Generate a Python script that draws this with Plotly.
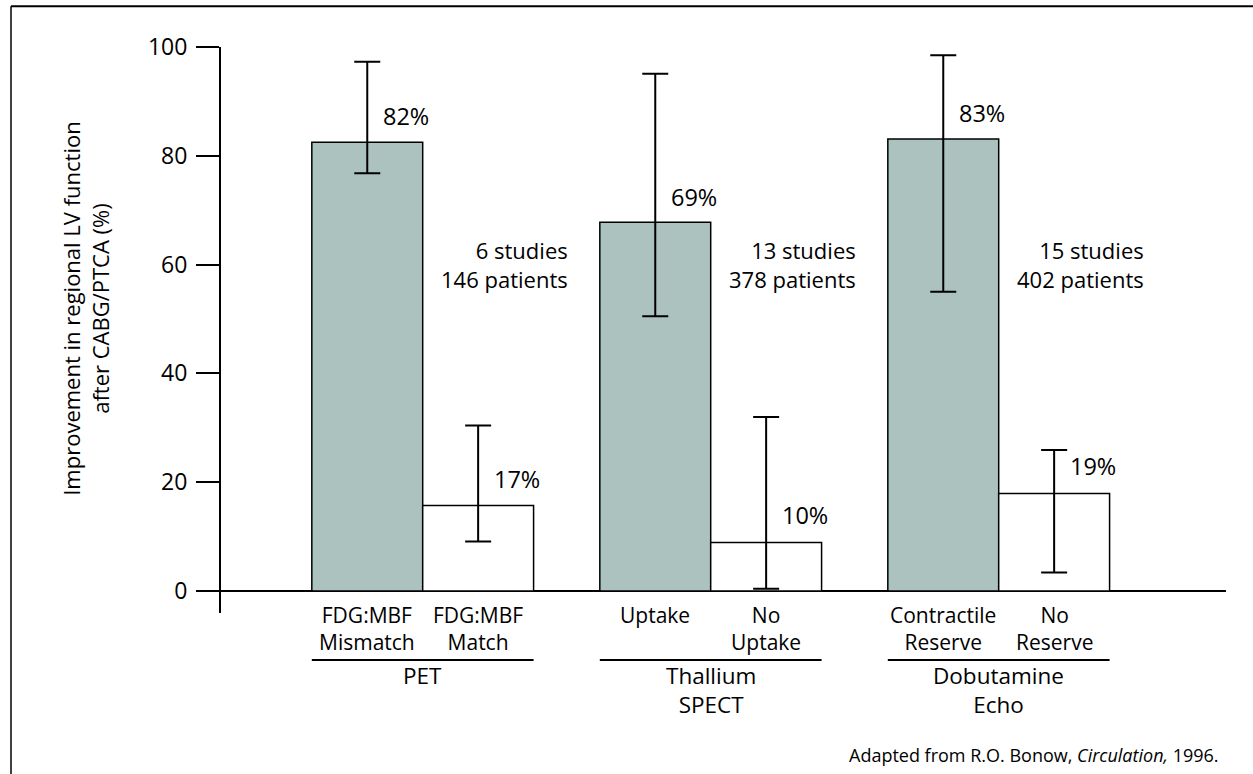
import plotly.graph_objects as go

# ---------------- data ----------------
groups = ["PET", "Thallium<br>SPECT", "Dobutamine<br>Echo"]
viable_labels = ["FDG:MBF<br>Mismatch", "Uptake", "Contractile<br>Reserve"]
nonviable_labels = ["FDG:MBF<br>Match", "No<br>Uptake", "No<br>Reserve"]
viable = [82.5, 67.8, 83.1]
viable_upper = [97.3, 95.1, 98.5]
viable_lower = [76.8, 50.5, 55.0]
nonviable = [15.7, 8.9, 17.9]
nonviable_upper = [30.4, 32.0, 25.9]
nonviable_lower = [9.1, 0.4, 3.4]
viable_text = ["82%", "69%", "83%"]
nonviable_text = ["17%", "10%", "19%"]
viable_text_y = [87.4, 72.5, 87.9]
nonviable_text_y = [20.6, 14.0, 23.0]
study_counts = ["6 studies", "13 studies", "15 studies"]
patient_counts = ["146 patients", "378 patients", "402 patients"]
y_ticks = [0, 20, 40, 60, 80, 100]

# ---------------- layout geometry ----------------
W, H = 1253, 774
PL, PR = 221, 1226          # plot area left/right (px)
PT, PB = 47.4, 613          # plot area top/bottom (px)
GROUP_SPACING = 288.0       # px per group unit
G0 = 422.7                  # px of group 0 centre
X_RANGE = [(PL - G0) / GROUP_SPACING, (PR - G0) / GROUP_SPACING]
Y_RANGE = [-4.05, 100]
BARGAP = 0.23
HALF = (1 - BARGAP) / 4      # offset of bar centre from group centre

FONT = "Open Sans"
gx = list(range(len(groups)))


def paper_x(px):
    return (px - PL) / (PR - PL)


def paper_y(py):
    return (PB - py) / (PB - PT)


def err(vals, hi, lo):
    return [h - v for v, h in zip(vals, hi)], [v - l for v, l in zip(vals, lo)]


vp, vm = err(viable, viable_upper, viable_lower)
np_, nm = err(nonviable, nonviable_upper, nonviable_lower)

fig = go.Figure()
fig.add_trace(go.Bar(
    x=gx, y=viable, name="viable",
    marker=dict(color="#abc2be", line=dict(color="black", width=1.5)),
    error_y=dict(type="data", symmetric=False, array=vp, arrayminus=vm,
                 color="black", thickness=2, width=13),
))
fig.add_trace(go.Bar(
    x=gx, y=nonviable, name="non-viable",
    marker=dict(color="white", line=dict(color="black", width=1.5)),
    error_y=dict(type="data", symmetric=False, array=np_, arrayminus=nm,
                 color="black", thickness=2, width=13),
))

ann = []
off = 14 / GROUP_SPACING
LBL = 23.5
for i, g in enumerate(gx):
    # percent labels
    ann.append(dict(x=g - HALF + off, y=viable_text_y[i], xref="x", yref="y",
                    text=viable_text[i], showarrow=False, xanchor="left", yanchor="middle",
                    font=dict(size=LBL)))
    ann.append(dict(x=g + HALF + off, y=nonviable_text_y[i], xref="x", yref="y",
                    text=nonviable_text[i], showarrow=False, xanchor="left", yanchor="middle",
                    font=dict(size=LBL)))
    # studies / patients
    ann.append(dict(x=g + 147.3 / GROUP_SPACING, y=60.1, xref="x", yref="y",
                    text=study_counts[i] + "<br>" + patient_counts[i],
                    showarrow=False, xanchor="right", yanchor="middle", align="right",
                    font=dict(size=22)))
    # category labels
    ann.append(dict(x=g - HALF, y=paper_y(599), xref="x", yref="paper",
                    text=viable_labels[i], showarrow=False, xanchor="center", yanchor="top",
                    font=dict(size=21)))
    ann.append(dict(x=g + HALF, y=paper_y(599), xref="x", yref="paper",
                    text=nonviable_labels[i], showarrow=False, xanchor="center", yanchor="top",
                    font=dict(size=21)))
    # group labels
    ann.append(dict(x=g, y=paper_y(657.5), xref="x", yref="paper",
                    text=groups[i], showarrow=False, xanchor="center", yanchor="top",
                    font=dict(size=22.5)))

# y axis title
ann.append(dict(x=paper_x(86), y=paper_y(309), xref="paper", yref="paper",
                text="Improvement in regional LV function<br>after CABG/PTCA (%)",
                textangle=-90, showarrow=False, xanchor="center", yanchor="middle",
                font=dict(size=22)))
# source
ann.append(dict(x=paper_x(1221), y=paper_y(755), xref="paper", yref="paper",
                text="Adapted from R.O. Bonow, <i>Circulation,</i> 1996.",
                showarrow=False, xanchor="right", yanchor="middle",
                font=dict(size=18)))

shapes = []
for g in gx:
    shapes.append(dict(type="line", xref="x", yref="paper",
                       x0=g - 2 * HALF, x1=g + 2 * HALF,
                       y0=paper_y(660), y1=paper_y(660),
                       line=dict(color="black", width=2)))
# frame lines
shapes.append(dict(type="line", xref="paper", yref="paper",
                   x0=paper_x(11), x1=paper_x(W + 5), y0=paper_y(6.7), y1=paper_y(6.7),
                   line=dict(color="black", width=2)))
shapes.append(dict(type="line", xref="paper", yref="paper",
                   x0=paper_x(11), x1=paper_x(11), y0=paper_y(6.7), y1=paper_y(H + 5),
                   line=dict(color="black", width=1.5)))

fig.update_layout(
    width=W, height=H,
    margin=dict(l=PL, r=W - PR, t=PT, b=H - PB, pad=0),
    paper_bgcolor="white", plot_bgcolor="white",
    font=dict(family=FONT, color="black", size=22),
    barmode="group", bargap=BARGAP, bargroupgap=0,
    showlegend=False,
    xaxis=dict(range=X_RANGE, showticklabels=False, ticks="", showgrid=False,
               zeroline=False, showline=False, fixedrange=True),
    yaxis=dict(range=Y_RANGE, tickvals=y_ticks, ticks="outside", ticklen=23,
               tickwidth=2, tickcolor="black", showline=True, linewidth=2,
               linecolor="black", showgrid=False, zeroline=True, zerolinecolor="black",
               zerolinewidth=2, tickfont=dict(size=23), ticklabelstandoff=4,
               fixedrange=True),
    annotations=ann, shapes=shapes,
)

fig.write_html("out.html", config={"displayModeBar": False},
               post_script="document.body.style.margin='0';document.body.style.overflow='hidden';")
